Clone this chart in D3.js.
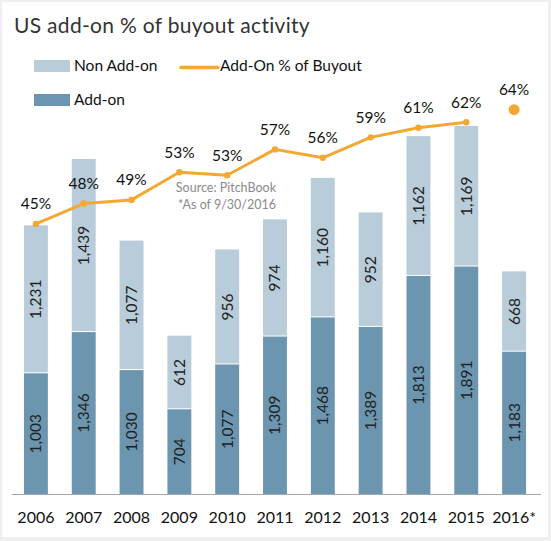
<!DOCTYPE html>
<html>
<head>
<meta charset="utf-8">
<script src="https://cdn.jsdelivr.net/npm/d3@7"></script>
<style>
  html, body { margin: 0; padding: 0; background: #efefef; }
  svg { display: block; }
  text { font-family: Lato, "Noto Sans", sans-serif; }
</style>
</head>
<body>
<div id="chart"></div>
<script>
  // chart values
  var years = ['2006', '2007', '2008', '2009', '2010', '2011', '2012', '2013', '2014', '2015', '2016*'];
  var addOn = [1003, 1346, 1030, 704, 1077, 1309, 1468, 1389, 1813, 1891, 1183];
  var nonAddOn = [1231, 1439, 1077, 612, 956, 974, 1160, 952, 1162, 1169, 668];
  var pctAddOn = [44.9, 48.3, 48.9, 53.5, 53.0, 57.3, 55.9, 59.3, 60.9, 61.8, 63.9];
  var pctLabels = ['45%', '48%', '49%', '53%', '53%', '57%', '56%', '59%', '61%', '62%', '64%'];

  var W = 551, H = 541;
  var lightBlue = '#b8cdd9', darkBlue = '#6c96b0', orange = '#f2a833';

  var svg = d3.select('#chart').append('svg')
    .attr('width', W)
    .attr('height', H);

  // white card
  svg.append('rect')
    .attr('x', 2).attr('y', 2)
    .attr('width', 546).attr('height', 535)
    .attr('fill', '#fff');

  var x = d3.scaleBand().domain(years).range([12, 538]).paddingInner(0.5).paddingOuter(0.25);
  var y = d3.scaleLinear().domain([0, 3500]).range([494, 73]);
  var yPct = d3.scaleLinear().domain([0, 70]).range([494, 73]);

  // title
  svg.append('text')
    .attr('x', 14).attr('y', 33)
    .attr('font-size', 21)
    .attr('fill', '#333')
    .attr('font-family', '"Noto Sans", sans-serif')
    .style('letter-spacing', '0.3px')
    .text('US add-on % of buyout activity');

  // legend
  var legend = svg.append('g').attr('font-size', 15.5).attr('fill', '#111');
  legend.append('rect').attr('x', 34).attr('y', 60).attr('width', 36).attr('height', 12).attr('fill', lightBlue);
  legend.append('text').attr('x', 74).attr('y', 66).attr('dy', '0.35em').text('Non Add-on');
  legend.append('rect').attr('x', 34).attr('y', 94).attr('width', 36).attr('height', 12).attr('fill', darkBlue);
  legend.append('text').attr('x', 74).attr('y', 100).attr('dy', '0.35em').text('Add-on');
  legend.append('line').attr('x1', 181).attr('x2', 218).attr('y1', 67.5).attr('y2', 67.5)
    .attr('stroke', orange).attr('stroke-width', 3.5).attr('stroke-linecap', 'round');
  legend.append('text').attr('x', 220).attr('y', 66).attr('dy', '0.35em').text('Add-On % of Buyout');

  var rows = years.map(function (yr, i) {
    return { year: yr, add: addOn[i], non: nonAddOn[i], pct: pctAddOn[i], label: pctLabels[i] };
  });

  // stacked bars
  var bars = svg.append('g').selectAll('.bar')
    .data(rows)
    .enter().append('g')
    .attr('class', 'bar');

  bars.append('rect')
    .attr('x', function (d) { return x(d.year); })
    .attr('width', x.bandwidth())
    .attr('y', function (d) { return y(d.add); })
    .attr('height', function (d) { return y(0) - y(d.add); })
    .attr('fill', darkBlue);

  bars.append('rect')
    .attr('x', function (d) { return x(d.year); })
    .attr('width', x.bandwidth())
    .attr('y', function (d) { return y(d.add + d.non); })
    .attr('height', function (d) { return y(d.add) - y(d.add + d.non) - 1; })
    .attr('fill', lightBlue);

  var fmt = d3.format(',');

  // rotated value labels
  bars.append('text')
    .attr('transform', function (d) {
      return 'translate(' + (x(d.year) + x.bandwidth() / 2) + ',' + ((y(0) + y(d.add)) / 2) + ') rotate(-90)';
    })
    .attr('text-anchor', 'middle')
    .attr('dy', '0.35em')
    .attr('font-size', 15.5)
    .attr('fill', '#222')
    .text(function (d) { return fmt(d.add); });

  bars.append('text')
    .attr('transform', function (d) {
      return 'translate(' + (x(d.year) + x.bandwidth() / 2) + ',' + ((y(d.add) + y(d.add + d.non)) / 2) + ') rotate(-90)';
    })
    .attr('text-anchor', 'middle')
    .attr('dy', '0.35em')
    .attr('font-size', 15.5)
    .attr('fill', '#222')
    .text(function (d) { return fmt(d.non); });

  // baseline
  svg.append('line')
    .attr('x1', 12).attr('x2', 541)
    .attr('y1', 494.5).attr('y2', 494.5)
    .attr('stroke', '#a6a6a6').attr('stroke-width', 1);

  // x axis labels
  var xAxis = svg.append('g')
    .attr('transform', 'translate(0,494)')
    .call(d3.axisBottom(x).tickSize(0).tickPadding(18));
  xAxis.select('.domain').remove();
  xAxis.selectAll('text')
    .attr('font-size', 16)
    .attr('fill', '#111')
    .attr('font-family', 'Lato, "Noto Sans", sans-serif');

  // percentage line (2016 YTD shown as a separate dot)
  var cx = function (d) { return x(d.year) + x.bandwidth() / 2; };
  var linePts = rows.slice(0, rows.length - 1);

  svg.append('path')
    .datum(linePts)
    .attr('fill', 'none')
    .attr('stroke', orange)
    .attr('stroke-width', 3)
    .attr('stroke-linejoin', 'round')
    .attr('d', d3.line().x(cx).y(function (d) { return yPct(d.pct); }));

  svg.append('g').selectAll('circle')
    .data(rows)
    .enter().append('circle')
    .attr('cx', cx)
    .attr('cy', function (d) { return yPct(d.pct); })
    .attr('r', function (d, i) { return i === rows.length - 1 ? 5.5 : 3.2; })
    .attr('fill', orange);

  svg.append('g').selectAll('text')
    .data(rows)
    .enter().append('text')
    .attr('x', cx)
    .attr('y', function (d) { return yPct(d.pct) - 20; })
    .attr('text-anchor', 'middle')
    .attr('dy', '0.35em')
    .attr('font-size', 15.5)
    .attr('fill', '#111')
    .text(function (d) { return d.label; });

  // source note
  var note = svg.append('g')
    .attr('font-size', 12.5)
    .attr('fill', '#8a8a8a')
    .attr('text-anchor', 'end')
    .attr('font-family', '"Noto Sans", sans-serif');
  note.append('text').attr('x', 276).attr('y', 192).text('Source: PitchBook');
  note.append('text').attr('x', 276).attr('y', 209).text('*As of 9/30/2016');
</script>
</body>
</html>
